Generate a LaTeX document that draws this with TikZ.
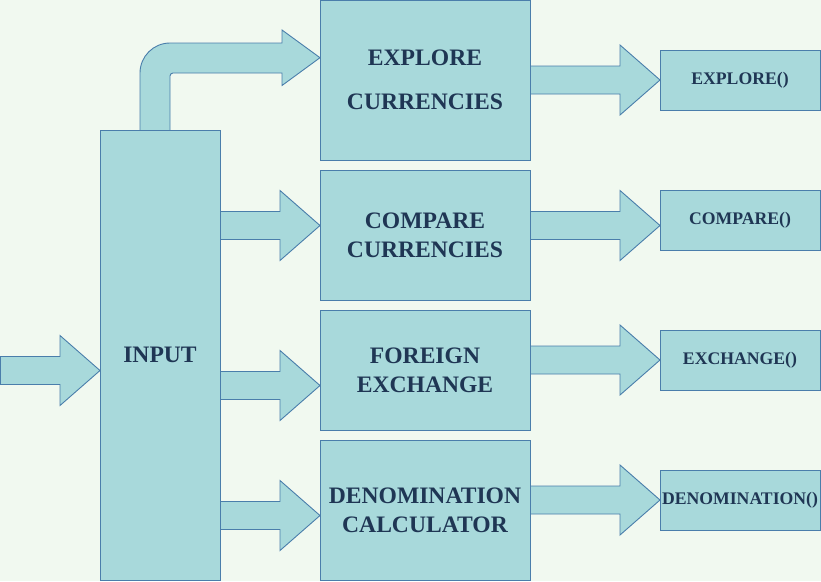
\documentclass[tikz,border=0pt]{standalone}
\usepackage{fontspec}
\setmainfont{Liberation Serif}
\definecolor{bgc}{HTML}{F1F9F0}
\definecolor{fillc}{HTML}{A8D9DB}
\definecolor{linec}{HTML}{4A7EAB}
\definecolor{txtc}{HTML}{1F3654}
\tikzset{
  blk/.style={draw=linec, fill=fillc, line width=0.9pt, line join=miter},
  boxn/.style={blk, rectangle, inner sep=0pt, text=txtc, font=\bfseries\fontsize{23.6}{28.7}\selectfont, align=center},
  smalln/.style={blk, rectangle, inner sep=0pt, text=txtc, font=\bfseries\fontsize{17.7}{21}\selectfont, align=center},
}
\newcommand\barr[4]{%
  \draw[blk] (#1,#4-14) -- (#2,#4-14) -- (#2,#4-35) -- (#3,#4) -- (#2,#4+35) -- (#2,#4+14) -- (#1,#4+14) -- cycle;}
\begin{document}
\begin{tikzpicture}[x=1pt,y=-1pt]
\fill[bgc] (0,0) rectangle (821,581);
\useasboundingbox (0,0) rectangle (821,581);
% curved arrow from INPUT to EXPLORE
\draw[blk] (140,131) -- (140,73) arc[start angle=180, end angle=270, radius=30] -- (282,43) -- (282,30) -- (320,57.7) -- (282,85.5) -- (282,73) -- (173,73) arc[start angle=270, end angle=180, radius=3] -- (170,131);
% input arrow
\barr{0.5}{60}{100}{370.5}
% input to middle
\barr{220}{280}{320}{225.5}
\barr{220}{280}{320}{385.5}
\barr{220}{280}{320}{515.5}
% middle to right
\barr{530}{620}{660}{80}
\barr{530}{620}{660}{225.5}
\barr{530}{620}{660}{360}
\barr{530}{620}{660}{500}
% boxes
\node[boxn, minimum width=120, minimum height=450] (inp) at (160,355) {INPUT};
\node[boxn, minimum width=210, minimum height=160] (exp) at (425,80) {EXPLORE\\[15.3pt]CURRENCIES};
\node[boxn, minimum width=210, minimum height=130] (cmp) at (425,235) {COMPARE\\CURRENCIES};
\node[boxn, minimum width=210, minimum height=120] (fx) at (425,370) {FOREIGN\\EXCHANGE};
\node[boxn, minimum width=210, minimum height=140] (den) at (425,510) {DENOMINATION\\CALCULATOR};
\node[smalln, minimum width=160, minimum height=60] (expf) at (740,80) {EXPLORE()};
\node[smalln, minimum width=160, minimum height=60] (cmpf) at (740,220) {COMPARE()};
\node[smalln, minimum width=160, minimum height=60] (fxf) at (740,360) {EXCHANGE()};
\node[smalln, minimum width=160, minimum height=60] (denf) at (740,500) {DENOMINATION()};
\end{tikzpicture}
\end{document}
